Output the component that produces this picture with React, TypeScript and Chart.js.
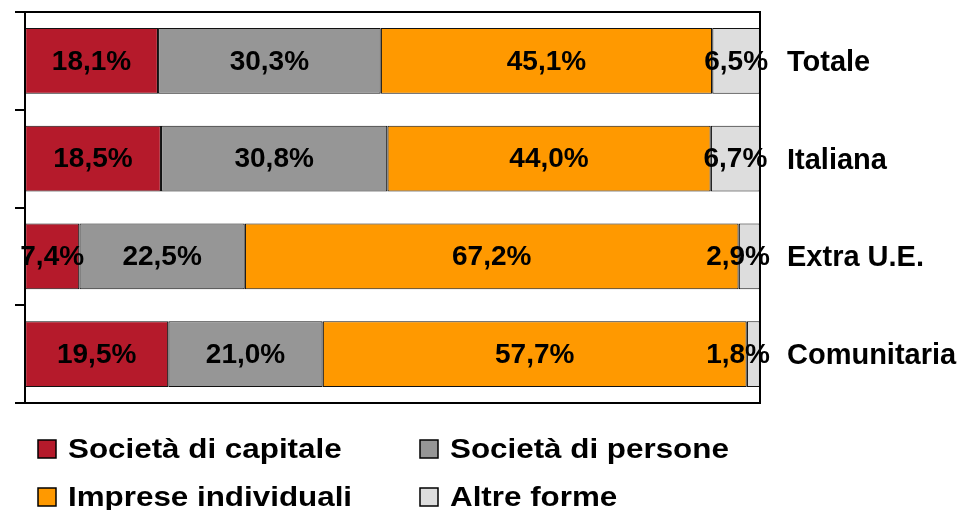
import React, { useEffect, useRef } from 'react';
import { Chart, registerables } from 'chart.js';

Chart.register(...registerables);

const categories = ['Totale', 'Italiana', 'Extra U.E.', 'Comunitaria'];
const seriesNames = ['Società di capitale', 'Società di persone', 'Imprese individuali', 'Altre forme'];
const capitale = [18.1, 18.5, 7.4, 19.5];
const persone = [30.3, 30.8, 22.5, 21.0];
const individuali = [45.1, 44.0, 67.2, 57.7];
const altre = [6.5, 6.7, 2.9, 1.8];
const colors = ['#B51A2B', '#969696', '#FF9900', '#DDDDDD'];

const FONT = '"Liberation Sans", Arial, sans-serif';

const overlayPlugin = {
  id: 'overlay',
  afterDatasetsDraw(chart: any) {
    const { ctx, chartArea } = chart;
    ctx.save();
    ctx.strokeStyle = '#000';
    ctx.lineWidth = 2;
    ctx.strokeRect(chartArea.left, chartArea.top, chartArea.right - chartArea.left, chartArea.bottom - chartArea.top);

    ctx.font = `bold 28px ${FONT}`;
    ctx.fillStyle = '#000';
    ctx.textAlign = 'center';
    ctx.textBaseline = 'middle';
    chart.data.datasets.forEach((ds: any, di: number) => {
      const meta = chart.getDatasetMeta(di);
      meta.data.forEach((bar: any, i: number) => {
        const v = ds.data[i] as number;
        const txt = v.toFixed(1).replace('.', ',') + '%';
        const w = ctx.measureText(txt).width;
        let cx = (bar.x + bar.base) / 2;
        const maxRight = chartArea.right + 10;
        if (cx + w / 2 > maxRight) cx = maxRight - w / 2;
        ctx.fillText(txt, cx, bar.y + 1);
      });
    });

    // legend (2 columns)
    ctx.textAlign = 'left';
    const colX = [chartArea.left + 13, chartArea.left + 395];
    const rowY = [chartArea.bottom + 46, chartArea.bottom + 94];
    const box = 18;
    chart.data.datasets.forEach((ds: any, di: number) => {
      const x = colX[di % 2];
      const y = rowY[Math.floor(di / 2)];
      ctx.fillStyle = ds.backgroundColor;
      ctx.fillRect(x, y - box / 2, box, box);
      ctx.lineWidth = 1.5;
      ctx.strokeStyle = '#000';
      ctx.strokeRect(x, y - box / 2, box, box);
      ctx.fillStyle = '#000';
      ctx.save();
      ctx.translate(x + 30, y + 1);
      ctx.scale(1.12, 1);
      ctx.fillText(ds.label, 0, 0);
      ctx.restore();
    });
    ctx.restore();
  },
};

export default function App() {
  const ref = useRef<HTMLCanvasElement>(null);
  useEffect(() => {
    if (!ref.current) return;
    const series = [capitale, persone, individuali, altre];
    const chart = new Chart(ref.current, {
      type: 'bar',
      data: {
        labels: categories,
        datasets: series.map((d, i) => ({
          label: seriesNames[i],
          data: d,
          backgroundColor: colors[i],
          borderColor: '#111',
          borderWidth: 1.2,
          borderSkipped: false,
          categoryPercentage: 1,
          barPercentage: 0.675,
        })),
      },
      options: {
        indexAxis: 'y',
        animation: false,
        responsive: true,
        maintainAspectRatio: false,
        layout: { padding: { left: 0, right: 0, top: 12, bottom: 107 } },
        plugins: { legend: { display: false }, tooltip: { enabled: false } },
        scales: {
          x: { display: false, stacked: true, min: 0, max: 100 },
          y: {
            stacked: true,
            position: 'left',
            ticks: { display: false },
            grid: {
              offset: true,
              drawOnChartArea: false,
              drawTicks: true,
              tickLength: 10,
              color: '#000',
              lineWidth: 2,
            },
            border: { display: true, color: '#000', width: 2 },
            afterFit: (s: any) => { s.width = 25; s.paddingTop = 0; s.paddingBottom = 0; },
          },
          y2: {
            type: 'category',
            position: 'right',
            labels: categories,
            grid: { display: false },
            border: { display: false },
            ticks: { color: '#000', padding: 19, labelOffset: 2, font: { family: FONT, size: 29, weight: 'bold' } },
            afterFit: (s: any) => { s.width = 200; s.paddingTop = 0; s.paddingBottom = 0; },
          },
        },
      },
      plugins: [overlayPlugin],
    } as any);
    return () => chart.destroy();
  }, []);
  return (
    <div style={{ position: 'fixed', left: 0, top: 0, width: 960, height: 510, background: '#fff' }}>
      <canvas ref={ref} />
    </div>
  );
}
